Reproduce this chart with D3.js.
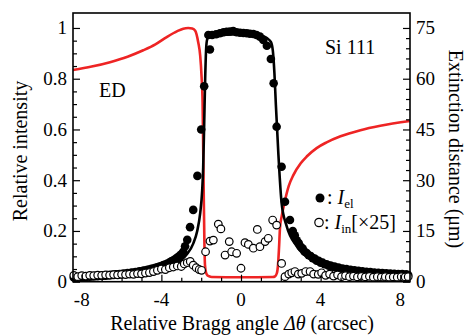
<!DOCTYPE html>
<html><head><meta charset="utf-8">
<script src="https://cdn.jsdelivr.net/npm/d3@7"></script>
<style>
body{margin:0;background:#fff;}
svg{display:block;}
text{font-family:"Liberation Serif","Times New Roman",serif;}
</style></head>
<body><svg id="c" width="467" height="336"></svg>
<script>
// ---- data ----
// fitted elastic curve (relative intensity)
const fitX = [-8.44,-7.5,-6.5,-5.5,-4.5,-4,-3.5,-3,-2.7,-2.4,-2.2,-2.05,-1.95,-1.9,-1.85,-1.8,-1.75,-1.7,-1.6,-1,0,1,1.3,1.5,1.6,1.68,1.75,1.88,2.04,2.29,2.8,3.6,5,6,7,8,8.49];
const fitY = [0.010,0.013,0.018,0.025,0.037,0.046,0.062,0.085,0.11,0.15,0.2,0.27,0.36,0.45,0.62,0.8,0.92,0.955,0.968,0.972,0.975,0.97,0.96,0.945,0.91,0.82,0.7,0.5,0.31,0.22,0.14,0.085,0.05,0.034,0.026,0.02,0.018];
// measured elastic intensity I_el (filled circles)
const elX = [-8.4,-8.3,-8.2,-8.1,-8.0,-7.9,-7.8,-7.7,-7.6,-7.5,-7.4,-7.3,-7.2,-7.1,-7.0,-6.9,-6.8,-6.7,-6.6,-6.5,-6.4,-6.3,-6.2,-6.1,-6.0,-5.9,-5.8,-5.7,-5.6,-5.5,-5.4,-5.3,-5.2,-5.1,-5.0,-4.9,-4.8,-4.7,-4.6,-4.5,-4.4,-4.3,-4.2,-4.1,-4.0,-3.9,-3.8,-3.7,-3.6,-3.5,-3.4,-3.3,-3.2,-3.1,-3.0,-2.9,-2.81,-2.7,-2.56,-2.4,-2.19,-2.0,-1.85,-1.56,-1.64,-1.45,-1.25,-1.06,-0.88,-0.72,-0.55,-0.39,-0.22,-0.05,0.12,0.29,0.45,0.62,0.78,0.95,1.12,1.3,1.5,1.64,1.79,2.04,2.21,2.46,2.6,2.7,2.8,2.9,3.0,3.1,3.2,3.3,3.4,3.5,3.6,3.7,3.8,3.9,4.0,4.1,4.2,4.3,4.4,4.5,4.6,4.7,4.8,4.9,5.0,5.1,5.2,5.3,5.4,5.5,5.6,5.7,5.8,5.9,6.0,6.1,6.2,6.3,6.4,6.5,6.6,6.7,6.8,6.9,7.0,7.1,7.2,7.3,7.4,7.5,7.6,7.7,7.8,7.9,8.0,8.1,8.2,8.3,8.4];
const elY = [0.017,0.018,0.017,0.019,0.018,0.02,0.019,0.021,0.02,0.022,0.021,0.023,0.022,0.024,0.023,0.025,0.024,0.026,0.026,0.027,0.027,0.029,0.028,0.03,0.03,0.032,0.031,0.034,0.033,0.036,0.035,0.038,0.038,0.041,0.041,0.044,0.044,0.047,0.048,0.051,0.052,0.055,0.057,0.06,0.062,0.066,0.068,0.072,0.075,0.08,0.084,0.089,0.095,0.101,0.108,0.118,0.14,0.165,0.215,0.283,0.417,0.60,0.77,0.915,0.972,0.972,0.975,0.979,0.983,0.985,0.986,0.988,0.983,0.981,0.98,0.979,0.977,0.976,0.972,0.966,0.953,0.93,0.878,0.782,0.611,0.453,0.315,0.243,0.2,0.183,0.163,0.152,0.138,0.131,0.118,0.113,0.104,0.101,0.093,0.091,0.083,0.082,0.075,0.075,0.069,0.069,0.063,0.064,0.058,0.06,0.054,0.056,0.05,0.052,0.047,0.05,0.044,0.047,0.042,0.045,0.04,0.043,0.038,0.041,0.036,0.039,0.035,0.038,0.033,0.036,0.032,0.035,0.031,0.034,0.03,0.033,0.029,0.032,0.028,0.031,0.028,0.03,0.027,0.03,0.026,0.029,0.026,0.028,0.025,0.028,0.024];
// inelastic intensity I_in x25 (open circles)
const inX = [-8.4,-8.2,-8.0,-7.8,-7.6,-7.4,-7.2,-7.0,-6.8,-6.6,-6.4,-6.2,-6.0,-5.8,-5.6,-5.4,-5.2,-5.0,-4.8,-4.6,-4.4,-4.2,-4.0,-3.8,-3.6,-3.4,-3.2,-3.0,-2.85,-2.7,-2.55,-2.4,-2.25,-2.1,-1.98,-1.78,-1.56,-1.39,-1.14,-1.01,-0.80,-0.59,-0.47,-0.22,0.0,0.20,0.37,0.62,0.82,0.95,1.21,1.37,1.59,1.79,2.04,2.21,2.4,2.55,2.71,2.88,3.05,3.25,3.47,3.65,3.88,4.05,4.25,4.45,4.65,4.85,5.05,5.25,5.45,5.65,5.85,6.05,6.25,6.45,6.65,6.85,7.05,7.25,7.45,7.65,7.85,8.05,8.25,8.4];
const inY = [0.025,0.02,0.024,0.022,0.025,0.024,0.026,0.025,0.027,0.026,0.028,0.027,0.029,0.028,0.03,0.029,0.032,0.031,0.034,0.036,0.04,0.045,0.05,0.048,0.055,0.058,0.062,0.06,0.07,0.075,0.08,0.065,0.055,0.048,0.045,0.118,0.160,0.164,0.227,0.208,0.105,0.158,0.118,0.112,0.053,0.154,0.147,0.132,0.206,0.138,0.158,0.171,0.243,0.223,0.072,0.02,0.03,0.035,0.04,0.03,0.033,0.04,0.04,0.03,0.029,0.035,0.025,0.03,0.022,0.027,0.02,0.024,0.02,0.022,0.019,0.021,0.019,0.021,0.018,0.02,0.018,0.02,0.018,0.019,0.018,0.02,0.019,0.02];
// extinction distance (um, right axis)
const edX = [-8.44,-7.5,-6.58,-5.7,-4.91,-4.3,-3.73,-3.2,-2.9,-2.65,-2.45,-2.3,-2.15,-2.05,-1.98,-1.93,-1.9,-1.87,-1.84,-1.81,-1.76,-1.7,-1.6,-1.47,0,1.6,1.71,1.8,1.86,1.91,1.96,2.05,2.21,2.4,2.63,3.0,3.3,3.8,4.3,5.0,6.0,7.0,8.49];
const edY = [62.6,63.6,64.9,66.5,68.4,70.15,72.3,74.05,74.8,75.0,74.85,74.2,70.8,66.8,60.5,53,40,25,12,5,2.8,2.0,1.6,1.4,1.3,1.4,1.6,2.5,5,10,16,19.5,24,28.3,31.5,35,37,39.5,41.2,43,44.8,46.1,47.5];
const leftTicks = [0,0.2,0.4,0.6,0.8,1];
const leftTickLabels = ["0","0.2","0.4","0.6","0.8","1"];
const rightTicks = [0,15,30,45,60,75];
const xTicks = [-8,-4,0,4,8];
const xTickLabels = ["-8","-4","0","4","8"];

// ---- layout ----
const svg = d3.select("#c");
const L = 73, R = 410, T = 13, B = 281.7;
const x = d3.scaleLinear().domain([-8.44, 8.49]).range([L, R]);
const y = d3.scaleLinear().domain([0, 1.059]).range([B, T]);
const y2 = d3.scaleLinear().domain([0, 1.059*75]).range([B, T]);

const g = svg.append("g");
const redLine = d3.line().x((d,i)=>x(edX[i])).y((d,i)=>y2(edY[i])).curve(d3.curveMonotoneX);
g.append("path").attr("d", redLine(edX)).attr("fill","none").attr("stroke","#ee2424").attr("stroke-width",2.6);
const fitLine = d3.line().x((d,i)=>x(fitX[i])).y((d,i)=>y(fitY[i])).curve(d3.curveMonotoneX);
g.append("path").attr("d", fitLine(fitX)).attr("fill","none").attr("stroke","#000").attr("stroke-width",2.6);
g.selectAll("circle.el").data(elX).enter().append("circle").attr("class","el")
  .attr("cx",(d)=>x(d)).attr("cy",(d,i)=>y(elY[i])).attr("r",4.3).attr("fill","#000");
g.selectAll("circle.in").data(inX).enter().append("circle").attr("class","in")
  .attr("cx",(d)=>x(d)).attr("cy",(d,i)=>y(inY[i])).attr("r",3.8).attr("fill","#fff").attr("stroke","#000").attr("stroke-width",1.2);

// frame
svg.append("rect").attr("x",L).attr("y",T).attr("width",R-L).attr("height",B-T)
  .attr("fill","none").attr("stroke","#000").attr("stroke-width",1.6);

// axes (ticks inward)
const axL = d3.axisRight(y).tickValues(d3.range(0,1.0001,0.05)).tickSize(4).tickFormat("");
const gl = svg.append("g").attr("transform",`translate(${L},0)`).call(axL);
gl.selectAll(".tick line").attr("x2",(d)=> leftTicks.some(t=>Math.abs(t-d)<1e-6)?7:4);
const axR = d3.axisLeft(y2).tickValues(d3.range(0,75.001,3)).tickSize(4).tickFormat("");
const gr = svg.append("g").attr("transform",`translate(${R},0)`).call(axR);
gr.selectAll(".tick line").attr("x2",(d)=> rightTicks.some(t=>Math.abs(t-d)<1e-6)?-7:-4);
const axB = d3.axisTop(x).tickValues(d3.range(-8,8.001,1)).tickSize(4).tickFormat("");
const gb = svg.append("g").attr("transform",`translate(0,${B})`).call(axB);
gb.selectAll(".tick line").attr("y2",(d)=> xTicks.includes(d)?-7:-4);
[gl,gr,gb].forEach(a=>{a.select(".domain").remove(); a.selectAll(".tick line").attr("stroke","#000").attr("stroke-width",1.2);});

// tick labels
const fs = 19;
svg.append("g").selectAll("text").data(leftTicks).enter().append("text")
  .attr("x",L-6).attr("y",d=>y(d)+6.5).attr("text-anchor","end").attr("font-size",fs).text((d,i)=>leftTickLabels[i]);
svg.append("g").selectAll("text").data(rightTicks).enter().append("text")
  .attr("x",R+6).attr("y",d=>y2(d)+6.5).attr("text-anchor","start").attr("font-size",fs).text(d=>String(d));
svg.append("g").selectAll("text").data(xTicks).enter().append("text")
  .attr("x",d=>x(d)).attr("y",306).attr("text-anchor","middle").attr("font-size",fs).text((d,i)=>xTickLabels[i]);

// axis titles
svg.append("text").attr("transform","translate(27,151) rotate(-90)").attr("text-anchor","middle").attr("font-size",20).text("Relative intensity");
svg.append("text").attr("transform","translate(449,149) rotate(90)").attr("text-anchor","middle").attr("font-size",20).text("Extinction distance (μm)");
const xt = svg.append("text").attr("x",242).attr("y",330).attr("text-anchor","middle").attr("font-size",20);
xt.append("tspan").text("Relative Bragg angle ");
xt.append("tspan").attr("font-style","italic").text("Δθ");
xt.append("tspan").text(" (arcsec)");

// annotations
svg.append("text").attr("x",325).attr("y",54).attr("font-size",20).text("Si 111");
svg.append("text").attr("x",99).attr("y",97).attr("font-size",20).text("ED");

// legend
svg.append("circle").attr("cx",320).attr("cy",198).attr("r",4.5).attr("fill","#000");
const t1 = svg.append("text").attr("x",327).attr("y",204).attr("font-size",20);
t1.append("tspan").text(": ");
t1.append("tspan").attr("font-style","italic").text("I");
t1.append("tspan").attr("font-size",13).attr("dy",4).text("el");
svg.append("circle").attr("cx",319).attr("cy",222.5).attr("r",4.2).attr("fill","#fff").attr("stroke","#000").attr("stroke-width",1.2);
const t2 = svg.append("text").attr("x",324).attr("y",228.5).attr("font-size",20);
t2.append("tspan").text(": ");
t2.append("tspan").attr("font-style","italic").text("I");
t2.append("tspan").attr("font-size",13).attr("dy",4).text("in");
t2.append("tspan").attr("dy",-4).text("[×25]");
</script></body></html>
